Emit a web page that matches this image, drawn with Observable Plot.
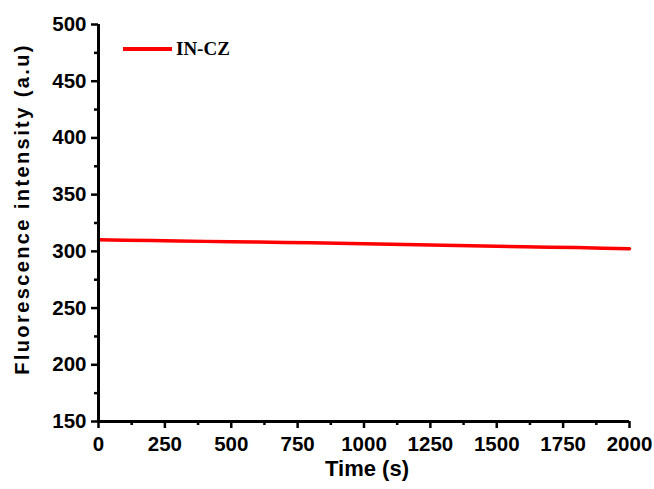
<!DOCTYPE html>
<html>
<head>
<meta charset="utf-8">
<script src="https://cdn.jsdelivr.net/npm/d3@7"></script>
<script src="https://cdn.jsdelivr.net/npm/@observablehq/plot@0.6"></script>
<style>
  html, body { margin: 0; padding: 0; background: #fff; }
  #wrap { position: relative; width: 654px; height: 489px; }
  #legend { position: absolute; left: 123px; top: 38px; height: 22px; display: flex; align-items: center; }
  #legend .sw { width: 49px; height: 3.5px; background: #ff0000; margin-right: 4px; }
  #legend .lb { font-family: "Liberation Serif", "Times New Roman", serif; font-weight: bold; font-size: 19px; color: #000; }
</style>
</head>
<body>
<div id="wrap">
  <div id="chart"></div>
  <div id="legend"><span class="sw"></span><span class="lb" id="legendLabel"></span></div>
</div>
<script>
// ---- data ----
const seriesName = "IN-CZ";
const timeS = [0, 100, 200, 300, 400, 500, 600, 700, 800, 900, 1000,
               1100, 1200, 1300, 1400, 1500, 1600, 1700, 1800, 1900, 2000];
const intensity = [310.2, 309.8, 309.5, 309.1, 308.8, 308.5, 308.2, 307.9, 307.5, 307.1, 306.7,
                   306.3, 305.9, 305.4, 305.0, 304.6, 304.1, 303.7, 303.3, 302.8, 302.4];
const xTicks = [0, 250, 500, 750, 1000, 1250, 1500, 1750, 2000];
const xMinorTicks = [125, 375, 625, 875, 1125, 1375, 1625, 1875];
const yTicks = [150, 200, 250, 300, 350, 400, 450, 500];
const yMinorTicks = [175, 225, 275, 325, 375, 425, 475];
const xLabel = "Time (s)";
const yLabel = "Fluorescence intensity (a.u)";
const lineColor = "#ff0000";

const data = timeS.map((t, i) => ({t, v: intensity[i]}));
document.getElementById("legendLabel").textContent = seriesName;

const font = "'Liberation Sans', Arial, sans-serif";
const chart = Plot.plot({
  width: 654, height: 489, marginLeft: 98, marginRight: 25, marginTop: 24, marginBottom: 68,
  style: {fontFamily: font, fontWeight: "bold", fontSize: "20px", color: "#000", background: "#fff"},
  x: {domain: [0, 2000]},
  y: {domain: [150, 500]},
  marks: [
    Plot.axisX({ticks: xTicks, tickSize: 7, tickPadding: 8, stroke: "#000", strokeWidth: 2.5, fontSize: 20.5, fontWeight: "bold", fill: "#000", label: null, tickFormat: d => String(d)}),
    Plot.axisX({ticks: xMinorTicks, tickSize: 4, stroke: "#000", strokeWidth: 2.5, text: null, label: null}),
    Plot.axisY({ticks: yTicks, tickSize: 7, tickPadding: 5, stroke: "#000", strokeWidth: 2.5, fontSize: 20.5, fontWeight: "bold", fill: "#000", label: null, tickFormat: d => String(d)}),
    Plot.axisY({ticks: yMinorTicks, tickSize: 4, stroke: "#000", strokeWidth: 2.5, text: null, label: null}),
    Plot.line(data, {x: "t", y: "v", stroke: lineColor, strokeWidth: 3.5}),
    Plot.ruleX([0], {stroke: "#000", strokeWidth: 3}),
    Plot.ruleY([150], {stroke: "#000", strokeWidth: 3}),
    Plot.text([yLabel], {frameAnchor: "left", textAnchor: "middle", dx: -76, dy: -14, rotate: -90, fontSize: 20, fontWeight: "bold", fill: "#000", lineAnchor: "middle", text: d => d}),
    Plot.text([xLabel], {frameAnchor: "bottom", textAnchor: "middle", dx: 3, dy: 47, fontSize: 22, fontWeight: "bold", fill: "#000", lineAnchor: "middle", text: d => d})
  ]
});
document.getElementById("chart").appendChild(chart);
chart.querySelectorAll("text").forEach(t => { if (t.textContent === yLabel) t.setAttribute("letter-spacing", "2.4"); });
</script>
</body>
</html>
